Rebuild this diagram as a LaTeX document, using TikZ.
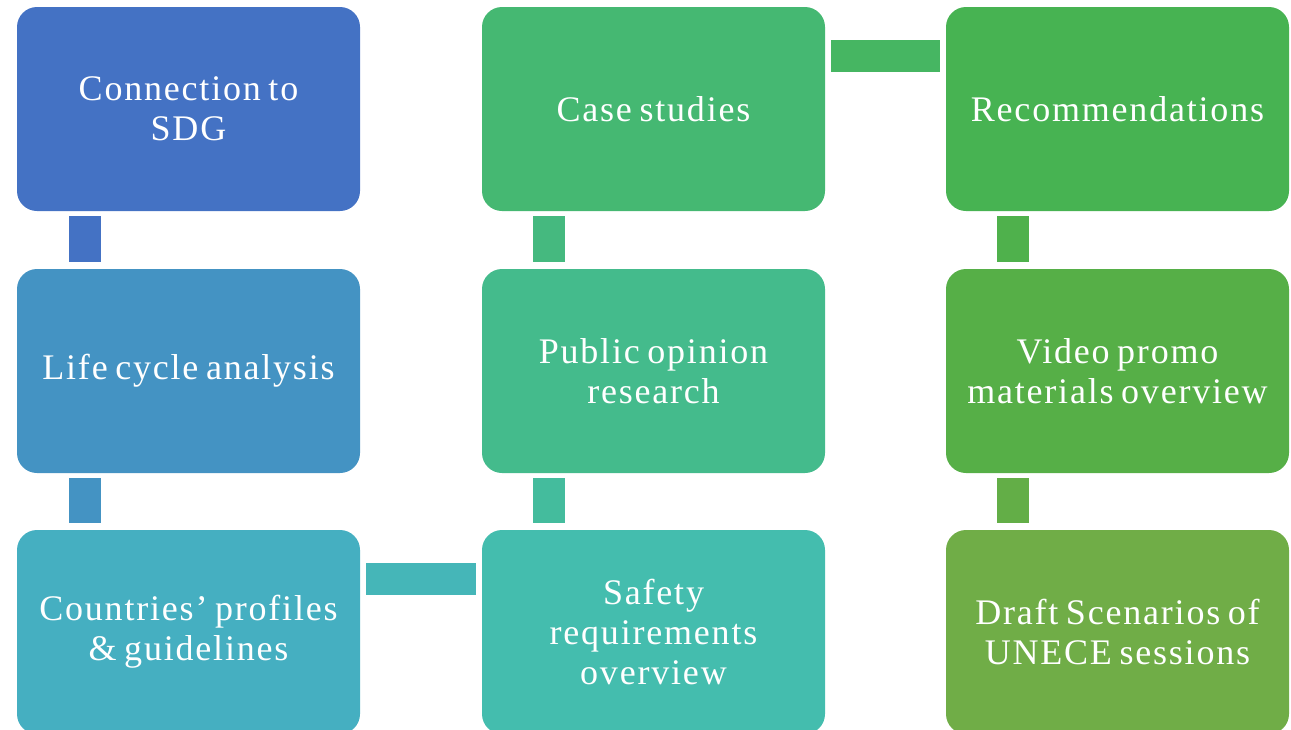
\documentclass[tikz,border=0pt]{standalone}
\usepackage{fontspec}
\setmainfont[LetterSpace=5,WordSpace=0.7]{Liberation Serif}
\usetikzlibrary{calc}
\definecolor{cA}{HTML}{4472C4}
\definecolor{cB}{HTML}{4493C3}
\definecolor{cC}{HTML}{45AFC1}
\definecolor{cD}{HTML}{44BDAE}
\definecolor{cE}{HTML}{44BB8C}
\definecolor{cF}{HTML}{45B872}
\definecolor{cG}{HTML}{47B352}
\definecolor{cH}{HTML}{56AF47}
\definecolor{cI}{HTML}{70AD47}
\tikzset{
  box/.style={rounded corners=20pt, minimum width=343pt, minimum height=204pt,
    inner sep=2pt, align=center, text=white,
    font=\fontsize{36}{40}\selectfont},
}
\begin{document}
\begin{tikzpicture}[x=1pt,y=-1pt]
\useasboundingbox (0,0) rectangle (1291,729);
\begin{scope}
\clip (0,0) rectangle (1291,729);
% boxes
\node[box, fill=cA] (b1) at (188.5,109) {Connection to\\SDG};
\node[box, fill=cB] (b2) at (188.5,371) {Life cycle analysis};
\node[box, fill=cC] (b3) at (188.5,632) {Countries’ profiles\\\& guidelines};
\node[box, fill=cD] (b4) at (653.5,632) {Safety\\requirements\\overview};
\node[box, fill=cE] (b5) at (653.5,371) {Public opinion\\research};
\node[box, fill=cF] (b6) at (653.5,109) {Case studies};
\node[box, fill=cG] (b7) at (1117.5,109) {Recommendations};
\node[box, fill=cH] (b8) at (1117.5,371) {Video promo\\materials overview};
\node[box, fill=cI] (b9) at (1117.5,632) {Draft Scenarios of\\UNECE sessions};
% connectors
\fill[cA] ($(b1.south west)+(52,5)$) rectangle ($(b2.north west)+(84,-7)$);
\fill[cB] ($(b2.south west)+(52,5)$) rectangle ($(b3.north west)+(84,-7)$);
\fill[cC!50!cD] ($(b3.north east)+(6,33)$) rectangle ($(b4.north west)+(-6,65)$);
\fill[cD!50!cE] ($(b5.south west)+(51,5)$) rectangle ($(b4.north west)+(83,-7)$);
\fill[cE!50!cF] ($(b6.south west)+(51,5)$) rectangle ($(b5.north west)+(83,-7)$);
\fill[cF!50!cG] ($(b6.north east)+(6,33)$) rectangle ($(b7.north west)+(-6,65)$);
\fill[cG!50!cH] ($(b7.south west)+(51,5)$) rectangle ($(b8.north west)+(83,-7)$);
\fill[cH!50!cI] ($(b8.south west)+(51,5)$) rectangle ($(b9.north west)+(83,-7)$);
\end{scope}
\end{tikzpicture}
\end{document}
